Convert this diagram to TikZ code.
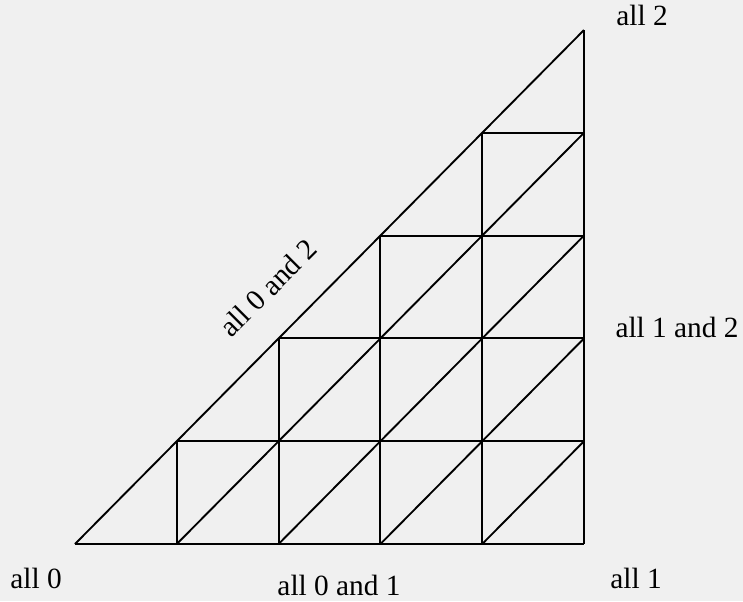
\documentclass[tikz,border=0pt]{standalone}
\usepackage{fontspec}
\setmainfont{Liberation Serif}
\definecolor{paper}{gray}{0.94}
\begin{document}
\begin{tikzpicture}[x=0.75pt, y=-0.75pt, line width=1.4pt, line join=round,
    lab/.style={font=\fontsize{22}{26}\selectfont, inner sep=0pt}]
  % 1. background (fixes the page size)
  \fill[paper] (0,0) rectangle (743,601);
  \useasboundingbox (0,0) rectangle (743,601);

  % 2. grid points p<i><j>, column i, row j
  \foreach \i in {0,...,5}
    \foreach \j in {0,...,\i}
      \coordinate (p\i\j) at ({75+101.8*\i},{544-102.8*\j});

  % 3. rows, columns and diagonals
  \foreach \k in {0,...,4} {
    \pgfmathtruncatemacro{\m}{5-\k}
    \pgfmathtruncatemacro{\n}{\k+1}
    \draw (p\k\k) -- (p5\k);
    \draw (p\n0) -- (p\n\n);
    \draw (p\k0) -- (p5\m);
  }

  % 4. labels
  \node[lab] (all0) at (36,578) {all 0};
  \node[lab] (all1) at (636,578) {all 1};
  \node[lab] (all2) at (642,15) {all 2};
  \node[lab] (all01) at (339,585) {all 0 and 1};
  \node[lab] (all12) at (677,327) {all 1 and 2};
  \node[lab, rotate=45] (all02) at (268,288) {all 0 and 2};
\end{tikzpicture}
\end{document}
